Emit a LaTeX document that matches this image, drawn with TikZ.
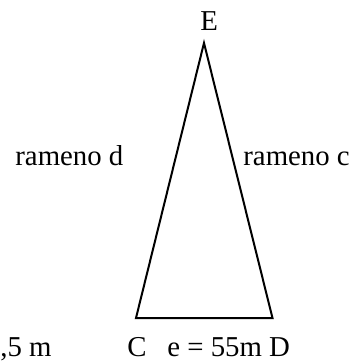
\documentclass[tikz,border=0pt]{standalone}
\usepackage{fontspec}
\setmainfont{Liberation Serif}
\begin{document}
\begin{tikzpicture}[x=0.5pt,y=-0.5pt,
  lbl/.style={anchor=base west,inner sep=0pt,font=\fontsize{14.4}{17}\selectfont},
  side/.style={draw=black,line width=1pt}]
\useasboundingbox (0,0) rectangle (353,361);
\coordinate (Ev) at (204,43);
\coordinate (Cv) at (136,318);
\coordinate (Dv) at (272.5,318);
\draw[side] (Ev) -- (Dv) -- (Cv) -- cycle;
\node[lbl] (E) at (200,30) {E};
\node[lbl] (rd) at (15,165) {rameno d};
\node[lbl] (rc) at (243,165) {rameno c};
\node[lbl] (m) at (0,356) {,5 m};
\node[lbl] (C) at (127,356) {C};
\node[lbl] (e) at (167,356) {e = 55m D};
\end{tikzpicture}
\end{document}
